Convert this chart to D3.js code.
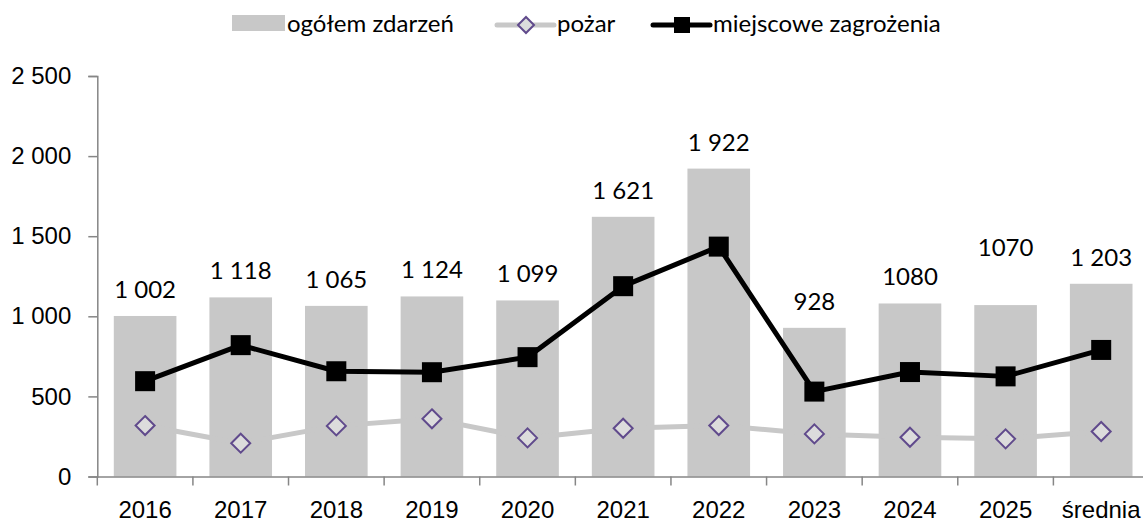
<!DOCTYPE html>
<html>
<head>
<meta charset="utf-8">
<script src="https://cdn.jsdelivr.net/npm/d3@7"></script>
<style>
  html, body { margin: 0; padding: 0; background: #fff; }
  svg { display: block; font-family: Lato, 'Noto Sans', sans-serif; }
</style>
</head>
<body>
<div id="chart"></div>
<script>
// ── DANE ────────────────────────────────────────────────
const categories = ['2016','2017','2018','2019','2020','2021','2022','2023','2024','2025','średnia'];
const ogolem     = [1002, 1118, 1065, 1124, 1099, 1621, 1922, 928, 1080, 1070, 1203];
const ogolemLbl  = ['1 002','1 118','1 065','1 124','1 099','1 621','1 922','928','1080','1070','1 203'];
const pozar      = [318, 208, 316, 360, 241, 301, 318, 266, 245, 235, 281];
const miejscowe  = [595, 820, 657, 651, 745, 1188, 1435, 530, 652, 625, 790];
const yTicks     = [0, 500, 1000, 1500, 2000, 2500];

const W = 1143, H = 523;
const FS = 24;
const BAR = '#c8c8c8', AXIS = '#868686';

const svg = d3.select('#chart').append('svg').attr('width', W).attr('height', H);

const x = d3.scaleBand().domain(categories).range([97.3, 1149])
  .paddingInner(0.345).paddingOuter(0.1725);
const y = d3.scaleLinear().domain([0, 2500]).range([476.5, 76]);
const cx = c => x(c) + x.bandwidth() / 2;

const fmt = d3.formatLocale({ decimal: ',', thousands: ' ', grouping: [3], currency: ['', ''] }).format(',d');

// Słupki
svg.append('g').selectAll('rect').data(categories).enter().append('rect')
  .attr('x', c => x(c)).attr('width', x.bandwidth())
  .attr('y', (c, i) => y(ogolem[i])).attr('height', (c, i) => y(0) - y(ogolem[i]))
  .attr('fill', BAR);

// Etykiety słupków (2025 podniesiona ręcznie jak w oryginale)
const lift = { '2025': 31 };
svg.append('g').selectAll('text').data(categories).enter().append('text')
  .attr('x', c => cx(c)).attr('y', (c, i) => y(ogolem[i]) - 18 - (lift[c] || 0))
  .attr('text-anchor', 'middle').attr('font-size', FS).attr('fill', '#000')
  .text((c, i) => ogolemLbl[i]);

// Oś Y
const gy = svg.append('g').attr('transform', `translate(${x.range()[0]},0)`)
  .call(d3.axisLeft(y).tickValues(yTicks).tickFormat(fmt).tickSize(9).tickPadding(17));
gy.select('.domain').attr('stroke', AXIS).attr('stroke-width', 1.5);
gy.selectAll('.tick line').attr('stroke', AXIS).attr('stroke-width', 1.5);
gy.selectAll('.tick text').attr('font-size', FS).attr('fill', '#000').attr('font-family', null);

// Oś X
const gx = svg.append('g').attr('transform', `translate(0,${y(0)})`)
  .call(d3.axisBottom(x).tickSize(0).tickPadding(24));
gx.select('.domain').attr('stroke', AXIS).attr('stroke-width', 1.5);
gx.selectAll('.tick text').attr('font-size', FS).attr('fill', '#000').attr('font-family', null);
const bounds = categories.map(c => x(c) - x.step() * x.paddingInner() / 2);
gx.selectAll('.bound').data(bounds).enter().append('line')
  .attr('x1', d => d).attr('x2', d => d).attr('y1', 0).attr('y2', 9)
  .attr('stroke', AXIS).attr('stroke-width', 1.5);

// Linia: pożar
const line = d3.line().x(d => d[0]).y(d => d[1]);
const ptsP = categories.map((c, i) => [cx(c), y(pozar[i])]);
svg.append('path').datum(ptsP).attr('d', line).attr('fill', 'none')
  .attr('stroke', BAR).attr('stroke-width', 5).attr('stroke-linejoin', 'round');
const diamond = r => `M0,${-r}L${r},0L0,${r}L${-r},0Z`;
svg.append('g').selectAll('path').data(ptsP).enter().append('path')
  .attr('transform', d => `translate(${d[0]},${d[1]})`).attr('d', diamond(9.5))
  .attr('fill', '#dcdcdc').attr('stroke', '#604a8c').attr('stroke-width', 2);

// Linia: miejscowe zagrożenia
const ptsM = categories.map((c, i) => [cx(c), y(miejscowe[i])]);
svg.append('path').datum(ptsM).attr('d', line).attr('fill', 'none')
  .attr('stroke', '#000').attr('stroke-width', 5).attr('stroke-linejoin', 'round');
svg.append('g').selectAll('rect').data(ptsM).enter().append('rect')
  .attr('x', d => d[0] - 10).attr('y', d => d[1] - 10).attr('width', 20).attr('height', 20)
  .attr('fill', '#000');

// Legenda
const lg = svg.append('g');
lg.append('rect').attr('x', 232).attr('y', 15).attr('width', 53).attr('height', 16).attr('fill', BAR);
lg.append('text').attr('x', 287).attr('y', 32).attr('font-size', FS).text('ogółem zdarzeń');

lg.append('line').attr('x1', 497).attr('x2', 554).attr('y1', 25).attr('y2', 25)
  .attr('stroke', BAR).attr('stroke-width', 5).attr('stroke-linecap', 'round');
lg.append('path').attr('transform', 'translate(526,25)').attr('d', diamond(8))
  .attr('fill', '#dcdcdc').attr('stroke', '#604a8c').attr('stroke-width', 2);
lg.append('text').attr('x', 557).attr('y', 32).attr('font-size', FS).text('pożar');

lg.append('line').attr('x1', 653).attr('x2', 710).attr('y1', 25).attr('y2', 25)
  .attr('stroke', '#000').attr('stroke-width', 5).attr('stroke-linecap', 'round');
lg.append('rect').attr('x', 674).attr('y', 17).attr('width', 16).attr('height', 16).attr('fill', '#000');
lg.append('text').attr('x', 713).attr('y', 32).attr('font-size', FS).text('miejscowe zagrożenia');
</script>
</body>
</html>
